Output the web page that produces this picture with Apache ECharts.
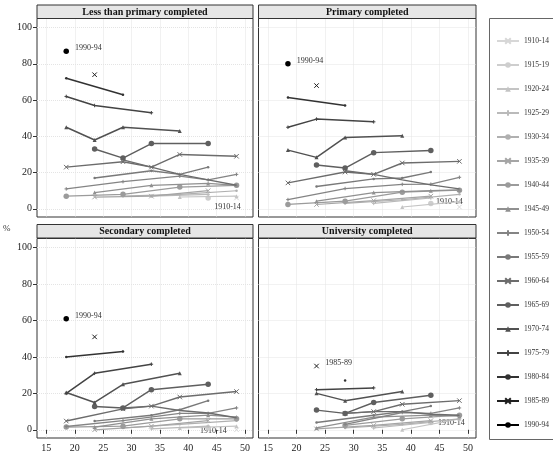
<!DOCTYPE html>
<html><head><meta charset="utf-8">
<script src="https://cdn.jsdelivr.net/npm/echarts@6/dist/echarts.min.js"></script>
<style>html,body{margin:0;padding:0;background:#fff}#c{width:553px;height:457px}</style>
</head><body><div id="c"></div>
<script>
// ages (midpoints of 5-year age groups)
const ages = [18.5, 23.5, 28.5, 33.5, 38.5, 43.5, 48.5];
const cohorts = ['1910-14','1915-19','1920-24','1925-29','1930-34','1935-39','1940-44','1945-49','1950-54','1955-59','1960-64','1965-69','1970-74','1975-79','1980-84','1985-89','1990-94'];
const panelTitles = ['Less than primary completed','Primary completed','Secondary completed','University completed'];
const xTicks = [15, 20, 25, 30, 35, 40, 45, 50];
const yTicks = [0, 20, 40, 60, 80, 100];
const _ = null;

// values per cohort (rows follow cohorts order), columns follow ages
const lessPrimary = [
  [_,_,_,_,_,_,6],
  [_,_,_,_,_,6,_],
  [_,_,_,_,6.5,_,7],
  [_,_,_,7,_,8,_],
  [_,_,7,_,8,_,10],
  [_,6.5,_,7,_,10,_],
  [7,_,8,_,12,_,13],
  [_,9,_,13,_,14,13],
  [11,_,15,_,18,16,19],
  [_,17,_,21,19,23,_],
  [23,_,26,23,30,_,29],
  [_,33,28,36,_,36,_],
  [45,38,45,_,43,_,_],
  [62,57,_,53,_,_,_],
  [72,_,63,_,_,_,_],
  [_,74,_,_,_,_,_],
  [87,_,_,_,_,_,_]
];
const primary = [
  [_,_,_,_,_,_,1],
  [_,_,_,_,_,3,_],
  [_,_,_,_,1,_,4],
  [_,_,_,3,_,6,_],
  [_,_,3,_,5,_,8],
  [_,2.4,_,4.5,_,7,_],
  [2.4,_,4.2,_,9.2,_,10.3],
  [_,4.2,_,9,_,10,10.5],
  [5.1,_,11.2,_,13.5,13.6,17.4],
  [_,12.3,_,16.5,17,20.3,_],
  [14.3,_,20.3,19,25.3,_,26.2],
  [_,24.2,22.5,31,_,32.2,_],
  [32.4,28.4,39.4,_,40.3,_,_],
  [45,49.5,_,48,_,_,_],
  [61.4,_,57,_,_,_,_],
  [_,68,_,_,_,_,_],
  [80,_,_,_,_,_,_]
];
const secondary = [
  [_,_,_,_,_,_,0],
  [_,_,_,_,_,1,_],
  [_,_,_,_,1,_,2],
  [_,_,_,0.5,_,2,_],
  [_,_,1,_,3,_,5],
  [_,0,_,2,_,5,_],
  [1.5,_,2,_,6,_,6],
  [_,1.5,_,6,_,8,7],
  [1.8,_,5,_,9,9,12],
  [_,4.8,_,8,11,16,_],
  [4.8,_,11.5,13,18,_,21],
  [_,12.8,12,22,_,25,_],
  [20.5,15,25,_,31,_,_],
  [20,31,_,36,_,_,_],
  [40,_,43,_,_,_,_],
  [_,51,_,_,_,_,_],
  [61,_,_,_,_,_,_]
];
const university = [
  [_,_,_,_,_,_,7],
  [_,_,_,_,_,4,_],
  [_,_,_,_,0,_,6],
  [_,_,_,1,_,4,_],
  [_,_,1,_,3,_,6],
  [_,0.5,_,2.4,_,5,_],
  [_,_,2.4,_,6,_,8],
  [_,1,_,7,_,8,7.5],
  [_,_,3,_,9.5,9,12],
  [_,4,_,8,10,13,_],
  [_,_,9,10,14,_,16],
  [_,10.8,9,15,_,19,_],
  [_,20,16,_,21,_,_],
  [_,22,_,23,_,_,_],
  [_,_,27,_,_,_,_],
  [_,35,_,_,_,_,_],
  [_,_,_,_,_,_,_]
];
// second trajectory drawn for the 1960-64 cohort in each panel
const extra6064 = [
  [_,_,27,23,19,16,13],
  [_,_,21,19,16,13.2,11],
  [_,_,12,13,10.6,9.2,6.6],
  [_,_,9,10,10,8.5,8]
];
const panels = [lessPrimary, primary, secondary, university];
const topLabel = ['1990-94','1990-94','1990-94','1985-89'];

const FONT = 'Liberation Serif';
const gridPos = [
  {left:37, top:18.5, width:216, height:198.5},
  {left:258.5, top:18.5, width:217.5, height:198.5},
  {left:37, top:238.5, width:216, height:199.5},
  {left:258.5, top:238.5, width:217.5, height:199.5}
];
function grayOf(i){const g=Math.round(215*Math.pow(1-i/16,0.7));return 'rgb('+g+','+g+','+g+')';}
const crossPath = 'path://M0,0L10,10M10,0L0,10';
const plusPath = 'path://M5,0L5,10M0,5L10,5';
function symbolOf(i){
  switch(i%5){
    case 0: return {s:crossPath,size:4.5,stroke:true};
    case 1: return {s:'circle',size:5.5,stroke:false};
    case 2: return {s:'triangle',size:4,stroke:false};
    case 3: return {s:plusPath,size:3.5,stroke:true};
    default: return {s:'circle',size:2.5,stroke:false};
  }
}
const lowLabel = [
  {position:'bottom',offset:[-9,0]},
  {position:'top',offset:[-10,4]},
  {position:'left',offset:[-5,1]},
  {position:'bottom',offset:[-8,-3]}
];

const grids=[], xAxes=[], yAxes=[], series=[];
gridPos.forEach((g,p)=>{
  grids.push(Object.assign({show:true,borderColor:'#333',borderWidth:1,backgroundColor:'#fff',containLabel:false},g));
  xAxes.push({type:'value',gridIndex:p,min:13.35,max:51.4,splitNumber:8,
    axisLine:{show:false},
    axisTick:{show:p>=2,inside:false,length:4,lineStyle:{color:'#333'},customValues:xTicks},
    axisLabel:{show:p>=2,fontFamily:FONT,fontSize:10,color:'#222',margin:5,customValues:xTicks},
    splitLine:{show:true,lineStyle:{color:'#e4e4e4',type:[1,1],width:1}}});
  yAxes.push({type:'value',gridIndex:p,min:-4.5,max:105,splitNumber:5,
    axisLine:{show:false},
    axisTick:{show:p%2===0,inside:false,length:4,lineStyle:{color:'#333'},customValues:yTicks},
    axisLabel:{show:p%2===0,fontFamily:FONT,fontSize:10,color:'#222',margin:5,customValues:yTicks},
    splitLine:{show:true,lineStyle:{color:'#e4e4e4',type:[1,1],width:1}}});
  const rows = panels[p];
  cohorts.forEach((name,i)=>{
    const col=grayOf(i); const sym=symbolOf(i);
    const data=[];
    rows[i].forEach((v,k)=>{
      if(v===null) return;
      const item={value:[ages[k],v]};
      if(name===topLabel[p]){
        item.label={show:true,position:'right',distance:6,offset:[0,-3],formatter:name,fontFamily:FONT,fontSize:8,color:'#333'};
      }
      if(name==='1910-14'){
        item.label=Object.assign({show:true,distance:2,formatter:name,fontFamily:FONT,fontSize:8,color:'#333'},lowLabel[p]);
      }
      data.push(item);
    });
    series.push({type:'line',name:name,xAxisIndex:p,yAxisIndex:p,data:data,
      symbol:sym.s,symbolSize:sym.size,showAllSymbol:true,
      lineStyle:{color:col,width:1+i*0.04},
      itemStyle:{color:col,borderColor:col,borderWidth:sym.stroke?1:0},
      emphasis:{disabled:true},animation:false,z:2+i});
    if(name==='1960-64'){
      const ex=[];
      extra6064[p].forEach((v,k)=>{if(v!==null) ex.push([ages[k],v]);});
      series.push({type:'line',name:name,xAxisIndex:p,yAxisIndex:p,data:ex,
        symbol:'none',lineStyle:{color:col,width:1+i*0.04},itemStyle:{color:col},
        emphasis:{disabled:true},animation:false,z:2+i});
    }
  });
});

const graphic=[];
const strips=[{x:37,y:5,w:216},{x:258.5,y:5,w:217.5},{x:37,y:224.5,w:216},{x:258.5,y:224.5,w:217.5}];
strips.forEach((s,p)=>{
  graphic.push({type:'rect',shape:{x:s.x,y:s.y,width:s.w,height:13.5},style:{fill:'#e6e6e6',stroke:'#333',lineWidth:1},z:10});
  graphic.push({type:'text',x:s.x+s.w/2,y:s.y+7,style:{text:panelTitles[p],font:'bold 10px "Liberation Serif"',fill:'#111',align:'center',verticalAlign:'middle'},z:11});
});
graphic.push({type:'text',left:3,top:224,style:{text:'%',font:'9px "Liberation Serif"',fill:'#333'}});
graphic.push({type:'rect',shape:{x:489.5,y:18.5,width:70,height:421},style:{fill:'none',stroke:'#666',lineWidth:1},z:0});

const chart=echarts.init(document.getElementById('c'),null,{renderer:'canvas'});
chart.setOption({
  animation:false,
  grid:grids,xAxis:xAxes,yAxis:yAxes,series:series,graphic:graphic,
  legend:{orient:'vertical',left:496,top:37,itemWidth:22,itemHeight:7,itemGap:16,padding:0,
    data:cohorts,textStyle:{fontFamily:FONT,fontSize:7.5,color:'#333'},selectedMode:false}
});
</script></body></html>
